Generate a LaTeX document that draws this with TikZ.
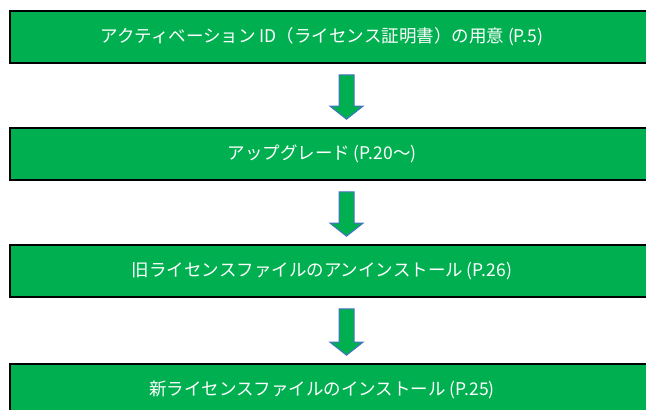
\documentclass[tikz,border=0pt]{standalone}
\usepackage{fontspec}
\setmainfont{Noto Sans CJK JP}
\usetikzlibrary{calc}

\definecolor{boxgreen}{HTML}{00B050}
\definecolor{arrowblue}{HTML}{4472C4}

\tikzset{
  stepbox/.style={draw=black, line width=1.6pt, fill=boxgreen, text=white,
    minimum width=642pt, minimum height=52pt, inner sep=0pt,
    font=\fontsize{17.5}{20}\selectfont, execute at end node={\kern18pt}},
  blockarrow/.style={draw=arrowblue, line width=1pt, fill=boxgreen, line join=miter}
}

\begin{document}
\begin{tikzpicture}[x=1pt,y=-1pt]
\useasboundingbox[fill=white] (0,0) rectangle (646,410);
\node[stepbox] (b1) at (331,37) {アクティベーション ID（ライセンス証明書）の用意 (P.5)};
\node[stepbox] (b2) at (331,154) {アップグレード (P.20～)};
\node[stepbox] (b3) at (331,271) {旧ライセンスファイルのアンインストール (P.26)};
\node[stepbox] (b4) at (331,390) {新ライセンスファイルのインストール (P.25)};
% block arrows between the steps
\foreach \a/\b in {b1/b2,b2/b3,b3/b4}
  \draw[blockarrow] ([xshift=8pt,yshift=-11pt]\a.south) -- ([xshift=8pt,yshift=21pt]\b.north)
    -- ([xshift=-1pt,yshift=21pt]\b.north) -- ([xshift=15.5pt,yshift=8pt]\b.north)
    -- ([xshift=32pt,yshift=21pt]\b.north) -- ([xshift=23pt,yshift=21pt]\b.north)
    -- ([xshift=23pt,yshift=-11pt]\a.south) -- cycle;
\end{tikzpicture}
\end{document}
